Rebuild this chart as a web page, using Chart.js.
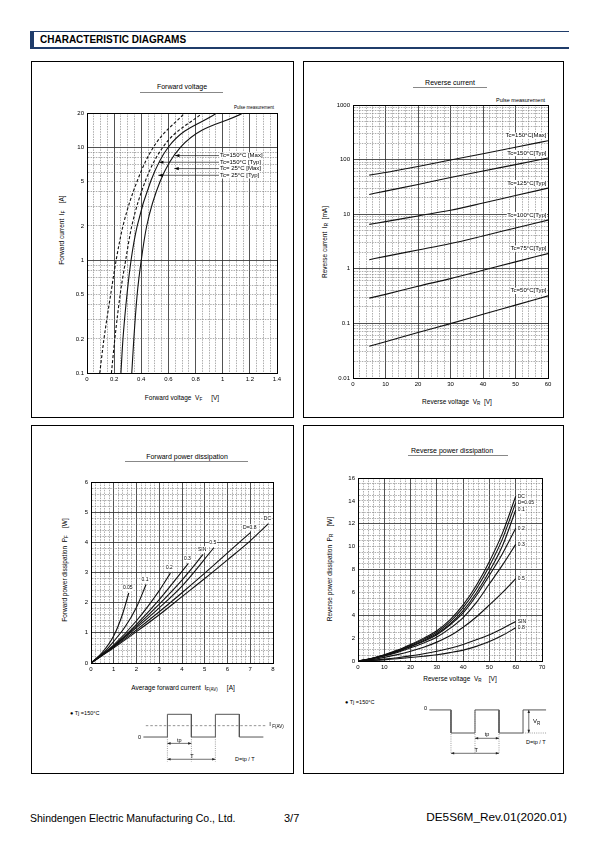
<!DOCTYPE html>
<html>
<head>
<meta charset="utf-8">
<script src="https://cdn.jsdelivr.net/npm/chart.js@4.4.1/dist/chart.umd.min.js"></script>
<style>
  body { margin: 0; width: 595px; height: 842px; position: relative; background: #fff; overflow: hidden;
         font-family: "Liberation Sans", Arial, sans-serif; color: #000; }
  .box { position: absolute; border: 1px solid #000; box-sizing: border-box; }
  .t { position: absolute; white-space: pre; line-height: 1; transform: translate(-50%, -50%); }
  .v { transform: translate(-50%, -50%) rotate(-90deg); }
  .l { transform: translate(0, -50%); }
  .r { transform: translate(-100%, -50%); }
  .rule { position: absolute; height: 0; border-top: 1px solid #888; }
  .s { font-size: 70%; position: relative; top: 1px; }
  canvas { position: absolute; }
</style>
</head>
<body>

<div style="position:absolute;left:30px;top:31px;width:539px;height:18px;border-top:1px solid #1f3c6a;border-bottom:2px solid #1f3c6a;box-sizing:border-box"></div>
<div style="position:absolute;left:30px;top:31px;width:4px;height:18px;background:#1f3c6a"></div>
<div class="t l" style="left:40px;top:40px;font-size:10px;font-weight:bold">CHARACTERISTIC DIAGRAMS</div>

<div class="box" style="left:31px;top:61px;width:263px;height:357px"></div>
<div class="box" style="left:303px;top:61px;width:261px;height:357px"></div>
<div class="box" style="left:31px;top:425px;width:263px;height:349px"></div>
<div class="box" style="left:303px;top:425px;width:261px;height:349px"></div>

<!-- titles -->
<div class="t" style="left:182px;top:86px;font-size:7px">Forward voltage</div>
<div class="rule" style="left:140px;top:92px;width:83px"></div>
<div class="t" style="left:450px;top:81.5px;font-size:7px">Reverse current</div>
<div class="rule" style="left:413px;top:87px;width:74px"></div>
<div class="t" style="left:187px;top:456px;font-size:7px">Forward power dissipation</div>
<div class="rule" style="left:125px;top:461px;width:123px"></div>
<div class="t" style="left:452px;top:450px;font-size:7px">Reverse power dissipation</div>
<div class="rule" style="left:408px;top:455px;width:100px"></div>

<div class="t r" style="left:274px;top:108px;font-size:4.5px">Pulse measurement</div>
<div class="t r" style="left:545px;top:100.5px;font-size:5.5px">Pulse measurement</div>

<!-- axis titles -->
<div class="t v" style="left:62px;top:230px;font-size:6.5px">Forward current  I<span class="s">F</span>    [A]</div>
<div class="t" style="left:182px;top:398px;font-size:6.5px">Forward voltage  V<span class="s">F</span>     [V]</div>
<div class="t v" style="left:325px;top:242px;font-size:6.5px">Reverse current  I<span class="s">R</span>  [mA]</div>
<div class="t" style="left:457px;top:402px;font-size:6.5px">Reverse voltage  V<span class="s">R</span>  [V]</div>
<div class="t v" style="left:65px;top:570px;font-size:6.5px">Forward power dissipation  P<span class="s">F</span>    [W]</div>
<div class="t" style="left:183px;top:688px;font-size:6.5px">Average forward current  I<span class="s">F(AV)</span>     [A]</div>
<div class="t v" style="left:330px;top:569px;font-size:6.5px">Reverse power dissipation  P<span class="s">R</span>    [W]</div>
<div class="t" style="left:460px;top:679px;font-size:6.5px">Reverse voltage  V<span class="s">R</span>    [V]</div>

<div class="t l" style="left:70px;top:714px;font-size:5.5px">● Tj =150°C</div>
<div class="t l" style="left:235px;top:760px;font-size:5.5px">D=tp / T</div>
<div class="t l" style="left:345px;top:703px;font-size:5.5px">● Tj =150°C</div>
<div class="t l" style="left:526px;top:743px;font-size:5.5px">D=tp / T</div>

<canvas id="c1" width="235" height="290" style="left:57px;top:100px;width:235px;height:290px"></canvas>
<canvas id="c2" width="245" height="300" style="left:318px;top:92px;width:245px;height:300px"></canvas>
<canvas id="c3" width="225" height="205" style="left:66px;top:470px;width:225px;height:205px"></canvas>
<canvas id="c4" width="228" height="207" style="left:333px;top:466px;width:228px;height:207px"></canvas>
<canvas id="w1" width="155" height="62" style="left:135px;top:705px;width:155px;height:62px"></canvas>
<canvas id="w2" width="140" height="60" style="left:420px;top:700px;width:140px;height:60px"></canvas>

<div class="t l" style="left:30px;top:818px;font-size:10.5px">Shindengen Electric Manufacturing Co., Ltd.</div>
<div class="t l" style="left:284px;top:818px;font-size:11px">3/7</div>
<div class="t r" style="left:567px;top:818px;font-size:11.8px">DE5S6M_Rev.01(2020.01)</div>

<script>
// ---- Forward voltage (IF vs VF) ----
const fvCurrent = [0.1, 0.2, 0.5, 1, 2, 5, 10, 20];
const fv150Typ = [0.094, 0.125, 0.175, 0.215, 0.265, 0.37, 0.49, 0.72];
const fv25Typ  = [0.18, 0.205, 0.245, 0.285, 0.33, 0.43, 0.56, 0.85];
const fv150Max = [0.25, 0.265, 0.295, 0.325, 0.37, 0.47, 0.6, 0.955];
const fv25Max  = [0.33, 0.345, 0.37, 0.4, 0.44, 0.54, 0.69, 1.15];
const fvXLabels = [0, 0.2, 0.4, 0.6, 0.8, 1, 1.2, 1.4];
const fvYLabels = [0.1, 0.2, 0.5, 1, 2, 5, 10, 20];
const fvNotes = ['Tc=150°C [Max]', 'Tc=150°C [Typ]', 'Tc= 25°C [Max]', 'Tc= 25°C [Typ]'];
const fvNoteTipV = [0.648, 0.53, 0.643, 0.525];
const fvNoteI = [8.4, 7.33, 6.44, 5.62];
const fvNoteTextV = 0.98;

// ---- Reverse current (IR vs VR) ----
const rcVoltage = [5, 10, 20, 30, 40, 50, 60];
const rc150Max = [52, 58, 75, 98, 128, 168, 222];
const rc150Typ = [23, 26.5, 35, 47, 62, 81, 107];
const rc125Typ = [6.5, 7.3, 9.3, 11.8, 16, 22, 30];
const rc100Typ = [1.47, 1.69, 2.21, 2.9, 4.0, 5.6, 7.8];
const rc75Typ  = [0.29, 0.34, 0.48, 0.66, 0.94, 1.34, 1.9];
const rc50Typ  = [0.038, 0.046, 0.068, 0.099, 0.147, 0.216, 0.32];
const rcXLabels = [0, 10, 20, 30, 40, 50, 60];
const rcYLabels = [0.01, 0.1, 1, 10, 100, 1000];

// ---- Forward power dissipation (PF vs IF(AV)) ----
const pf005I = [0, 0.5, 1, 1.4, 1.66];        const pf005P = [0, 0.35, 0.9, 1.65, 2.32];
const pf01I  = [0, 0.5, 1, 1.5, 2, 2.42];     const pf01P  = [0, 0.3, 0.72, 1.2, 1.85, 2.6];
const pf02I  = [0, 1, 2, 3, 3.49];            const pf02P  = [0, 0.6, 1.4, 2.4, 2.98];
const pf03I  = [0, 1, 2, 3, 4.28];            const pf03P  = [0, 0.57, 1.28, 2.1, 3.3];
const pfSinI = [0, 1, 2, 3, 4, 4.93];         const pfSinP = [0, 0.56, 1.22, 1.95, 2.75, 3.6];
const pf05I  = [0, 1, 2, 3, 4, 5.4];          const pf05P  = [0, 0.55, 1.17, 1.83, 2.55, 3.82];
const pf08I  = [0, 1, 2, 3, 4, 5, 6, 7.02];   const pf08P  = [0, 0.53, 1.1, 1.7, 2.33, 2.98, 3.65, 4.33];
const pfDcI  = [0, 1, 2, 3, 4, 5, 6, 7, 7.8]; const pfDcP  = [0, 0.5, 1.04, 1.6, 2.2, 2.8, 3.42, 4.05, 4.62];
const pfXLabels = [0, 1, 2, 3, 4, 5, 6, 7, 8];
const pfYLabels = [0, 1, 2, 3, 4, 5, 6];

// ---- Reverse power dissipation (PR vs VR) ----
const prVoltage = [0, 5, 10, 15, 20, 25, 30, 35, 40, 45, 50, 55, 60];
const prDc   = [0, 0.22, 0.55, 0.95, 1.45, 2.0, 2.65, 3.6, 4.9, 6.6, 8.7, 11.2, 14.4];
const pr005  = [0, 0.21, 0.52, 0.9, 1.38, 1.9, 2.52, 3.42, 4.66, 6.3, 8.3, 10.7, 13.85];
const pr01   = [0, 0.2, 0.5, 0.86, 1.3, 1.8, 2.39, 3.24, 4.41, 5.95, 7.85, 10.1, 13.2];
const pr02   = [0, 0.19, 0.47, 0.82, 1.25, 1.72, 2.3, 3.15, 4.2, 5.7, 7.5, 9.4, 11.6];
const pr03   = [0, 0.17, 0.43, 0.75, 1.15, 1.58, 2.1, 2.85, 3.8, 5.1, 6.75, 8.4, 10.2];
const pr05   = [0, 0.12, 0.32, 0.56, 0.85, 1.2, 1.65, 2.2, 2.95, 3.85, 4.9, 6.0, 7.2];
const prSin  = [0, 0.06, 0.16, 0.29, 0.45, 0.63, 0.85, 1.12, 1.45, 1.85, 2.3, 2.85, 3.45];
const pr08   = [0, 0.04, 0.1, 0.19, 0.3, 0.42, 0.55, 0.73, 0.95, 1.28, 1.7, 2.25, 2.9];
const prXLabels = [0, 10, 20, 30, 40, 50, 60, 70];
const prYLabels = [0, 2, 4, 6, 8, 10, 12, 14, 16];

// ---- waveform sketches ----
const fwdWaveT = [0, 1, 1, 2, 2, 3, 3, 4, 4, 5];
const fwdWaveV = [0, 0, 1, 1, 0, 0, 1, 1, 0, 0];
const fwdAvgT = [0.1, 5.15];
const fwdAvgV = [0.5, 0.5];
const revWaveT = [-0.9, 0, 0, 1, 1, 2, 2, 3, 3, 3.96];
const revWaveV = [0, 0, -1, -1, 0, 0, -1, -1, 0, 0];

const FONT = '"Liberation Sans", Arial, sans-serif';
Chart.defaults.font.family = FONT;
Chart.defaults.color = '#000';
Chart.defaults.animation = false;

const near = (a, b) => Math.abs(a - b) < 1e-6 * Math.max(1, Math.abs(b));
const inList = (v, list) => list.some(x => near(v, x));
const pts = (xs, ys) => xs.map((x, i) => ({ x: x, y: ys[i] }));

function steps(a, b, step) {
	const out = [];
	const n = Math.round((b - a) / step);
	for (let i = 0; i <= n; i++) out.push(Math.round((a + i * step) * 1e6) / 1e6);
	return out;
}
function logSteps(min, max) {
	const out = [];
	for (let e = -3; e <= 4; e++) {
		for (let k = 1; k < 10; k++) {
			const v = Number((k * Math.pow(10, e)).toPrecision(6));
			if (v >= min * 0.9999 && v <= max * 1.0001) out.push(v);
		}
	}
	return out;
}

function axis(o) {
	const edge = v => near(v, o.min) || near(v, o.max);
	return {
		type: o.type || 'linear', position: o.pos, min: o.min, max: o.max,
		afterBuildTicks: s => { s.ticks = o.grid.map(v => ({ value: v })); },
		afterFit: s => {
			if (o.pos === 'left') { s.width = o.size; s.paddingTop = 0; s.paddingBottom = 0; }
			else { s.height = o.size; s.paddingLeft = 0; s.paddingRight = 0; }
		},
		ticks: {
			autoSkip: false, maxRotation: 0, minRotation: 0, padding: o.pad || 3,
			font: { size: 6 }, color: '#000',
			callback: v => { const i = o.labels.findIndex(x => near(v, x)); return i < 0 ? '' : String(o.labels[i]); }
		},
		grid: {
			drawTicks: false,
			color: c => !c.tick ? '#000' : edge(c.tick.value) ? '#000' : inList(c.tick.value, o.major) ? '#333' : '#777',
			lineWidth: c => !c.tick ? 1 : edge(c.tick.value) ? 1 : inList(c.tick.value, o.major) ? 0.85 : 0.6
		},
		border: { color: '#000', width: 1, dash: c => (c.tick && !inList(c.tick.value, o.major)) ? [1.5, 1.1] : [] }
	};
}

function line(label, data, dash) {
	return {
		label: label, data: data, showLine: true, pointRadius: 0, borderColor: '#111',
		borderWidth: 1.1, borderDash: dash || [], cubicInterpolationMode: 'monotone', fill: false
	};
}

const baseOpts = (padding) => ({
	responsive: false, animation: false, layout: { padding: padding },
	plugins: { legend: { display: false }, tooltip: { enabled: false } }
});

function textBox(ctx, text, x, y, align) {
	const w = ctx.measureText(text).width;
	const left = align === 'right' ? x - w : align === 'center' ? x - w / 2 : x;
	ctx.fillStyle = '#fff';
	ctx.fillRect(left - 0.5, y - 3.2, w + 1, 6.4);
	ctx.fillStyle = '#000';
	ctx.textAlign = align;
	ctx.fillText(text, x, y);
}

// ---------- chart 1 ----------
const fvNotePlugin = {
	id: 'fvNotes',
	afterDatasetsDraw(chart) {
		const { ctx, scales: { x, y } } = chart;
		ctx.save();
		ctx.font = '6px ' + FONT;
		ctx.textBaseline = 'middle';
		const tx = x.getPixelForValue(fvNoteTextV);
		fvNotes.forEach((txt, i) => {
			const px = x.getPixelForValue(fvNoteTipV[i]);
			const py = y.getPixelForValue(fvNoteI[i]);
			ctx.strokeStyle = '#222'; ctx.lineWidth = 0.7;
			ctx.beginPath(); ctx.moveTo(px, py); ctx.lineTo(tx - 1, py); ctx.stroke();
			ctx.fillStyle = '#000';
			ctx.beginPath(); ctx.moveTo(px, py); ctx.lineTo(px + 4.5, py - 1.6); ctx.lineTo(px + 4.5, py + 1.6); ctx.closePath(); ctx.fill();
			textBox(ctx, txt, tx, py, 'left');
		});
		ctx.restore();
	}
};

new Chart(document.getElementById('c1'), {
	type: 'scatter',
	data: {
		datasets: [
			line('Tc=150°C [Typ]', pts(fv150Typ, fvCurrent), [3, 2]),
			line('Tc=25°C [Typ]', pts(fv25Typ, fvCurrent), [3, 2]),
			line('Tc=150°C [Max]', pts(fv150Max, fvCurrent)),
			line('Tc=25°C [Max]', pts(fv25Max, fvCurrent))
		]
	},
	options: Object.assign(baseOpts({ left: 0, top: 13, right: 15, bottom: 0 }), {
		scales: {
			x: axis({ pos: 'bottom', min: 0, max: 1.4, size: 17, grid: steps(0, 1.4, 0.05), labels: fvXLabels, major: fvXLabels }),
			y: axis({ type: 'logarithmic', pos: 'left', min: 0.1, max: 20, size: 30, grid: logSteps(0.1, 20), labels: fvYLabels, major: [0.1, 1, 10, 20] })
		}
	}),
	plugins: [fvNotePlugin]
});

// ---------- chart 2 ----------
const rcLabelPlugin = {
	id: 'rcLabels',
	afterDatasetsDraw(chart) {
		const { ctx, chartArea: a, scales: { y } } = chart;
		ctx.save();
		ctx.font = '6px ' + FONT;
		ctx.textBaseline = 'middle';
		chart.data.datasets.forEach(ds => {
			const last = ds.data[ds.data.length - 1];
			textBox(ctx, ds.label, a.right - 1.5, y.getPixelForValue(last.y) - 5, 'right');
		});
		ctx.restore();
	}
};

new Chart(document.getElementById('c2'), {
	type: 'scatter',
	data: {
		datasets: [
			line('Tc=150°C[Max]', pts(rcVoltage, rc150Max)),
			line('Tc=150°C[Typ]', pts(rcVoltage, rc150Typ)),
			line('Tc=125°C[Typ]', pts(rcVoltage, rc125Typ)),
			line('Tc=100°C[Typ]', pts(rcVoltage, rc100Typ)),
			line('Tc=75°C[Typ]', pts(rcVoltage, rc75Typ)),
			line('Tc=50°C[Typ]', pts(rcVoltage, rc50Typ))
		]
	},
	options: Object.assign(baseOpts({ left: 0, top: 13, right: 15, bottom: 0 }), {
		scales: {
			x: axis({ pos: 'bottom', min: 0, max: 60, size: 14, grid: steps(0, 60, 2), labels: rcXLabels, major: rcXLabels }),
			y: axis({ type: 'logarithmic', pos: 'left', min: 0.01, max: 1000, size: 35, grid: logSteps(0.01, 1000), labels: rcYLabels, major: rcYLabels })
		}
	}),
	plugins: [rcLabelPlugin]
});

// ---------- chart 3 ----------
const pfLabelPlugin = {
	id: 'pfLabels',
	afterDatasetsDraw(chart) {
		const { ctx, scales: { x, y } } = chart;
		ctx.save();
		ctx.font = '5px ' + FONT;
		ctx.textBaseline = 'middle';
		chart.data.datasets.forEach(ds => {
			const last = ds.data[ds.data.length - 1];
			textBox(ctx, ds.label, x.getPixelForValue(last.x) - 1, y.getPixelForValue(last.y) - 5, 'center');
		});
		ctx.restore();
	}
};

new Chart(document.getElementById('c3'), {
	type: 'scatter',
	data: {
		datasets: [
			line('0.05', pts(pf005I, pf005P)),
			line('0.1', pts(pf01I, pf01P)),
			line('0.2', pts(pf02I, pf02P)),
			line('0.3', pts(pf03I, pf03P)),
			line('SIN', pts(pfSinI, pfSinP)),
			line('0.5', pts(pf05I, pf05P)),
			line('D=0.8', pts(pf08I, pf08P)),
			line('DC', pts(pfDcI, pfDcP))
		]
	},
	options: Object.assign(baseOpts({ left: 0, top: 12, right: 18, bottom: 0 }), {
		scales: {
			x: axis({ pos: 'bottom', min: 0, max: 8, size: 12, grid: steps(0, 8, 0.2), labels: pfXLabels, major: pfXLabels }),
			y: axis({ pos: 'left', min: 0, max: 6, size: 25, grid: steps(0, 6, 0.2), labels: pfYLabels, major: pfYLabels })
		}
	}),
	plugins: [pfLabelPlugin]
});

// ---------- chart 4 ----------
const prLabelPlugin = {
	id: 'prLabels',
	afterDatasetsDraw(chart) {
		const { ctx, scales: { x, y } } = chart;
		ctx.save();
		ctx.font = '5px ' + FONT;
		ctx.textBaseline = 'middle';
		chart.data.datasets.forEach(ds => {
			const last = ds.data[ds.data.length - 1];
			textBox(ctx, ds.label, x.getPixelForValue(last.x) + 2, y.getPixelForValue(last.y), 'left');
		});
		ctx.restore();
	}
};

new Chart(document.getElementById('c4'), {
	type: 'scatter',
	data: {
		datasets: [
			line('DC', pts(prVoltage, prDc)),
			line('D=0.05', pts(prVoltage, pr005)),
			line('0.1', pts(prVoltage, pr01)),
			line('0.2', pts(prVoltage, pr02)),
			line('0.3', pts(prVoltage, pr03)),
			line('0.5', pts(prVoltage, pr05)),
			line('SIN', pts(prVoltage, prSin)),
			line('0.8', pts(prVoltage, pr08))
		]
	},
	options: Object.assign(baseOpts({ left: 0, top: 12, right: 19, bottom: 0 }), {
		scales: {
			x: axis({ pos: 'bottom', min: 0, max: 70, size: 12, grid: steps(0, 70, 2), labels: prXLabels, major: prXLabels }),
			y: axis({ pos: 'left', min: 0, max: 16, size: 25, grid: steps(0, 16, 0.5), labels: prYLabels, major: [0, 4, 8, 12, 16] })
		}
	}),
	plugins: [prLabelPlugin]
});

// ---------- waveform sketches ----------
function arrowHead(ctx, x, y, dx, dy) {
	const s = 3.2, w = 1.3;
	ctx.beginPath();
	ctx.moveTo(x, y);
	ctx.lineTo(x - dx * s - dy * w, y - dy * s + dx * w);
	ctx.lineTo(x - dx * s + dy * w, y - dy * s - dx * w);
	ctx.closePath();
	ctx.fill();
}
function dimension(ctx, x1, y1, x2, y2) {
	ctx.beginPath(); ctx.moveTo(x1, y1); ctx.lineTo(x2, y2); ctx.stroke();
	const len = Math.hypot(x2 - x1, y2 - y1), dx = (x2 - x1) / len, dy = (y2 - y1) / len;
	arrowHead(ctx, x2, y2, dx, dy);
	arrowHead(ctx, x1, y1, -dx, -dy);
}
function dotted(ctx, x1, y1, x2, y2) {
	ctx.save(); ctx.setLineDash([1, 1.2]); ctx.strokeStyle = '#777'; ctx.lineWidth = 0.7;
	ctx.beginPath(); ctx.moveTo(x1, y1); ctx.lineTo(x2, y2); ctx.stroke(); ctx.restore();
}

const waveOpts = (xmin, xmax, ymin, ymax) => Object.assign(baseOpts(0), {
	scales: {
		x: { type: 'linear', display: false, min: xmin, max: xmax },
		y: { type: 'linear', display: false, min: ymin, max: ymax }
	}
});

const fwdMarks = {
	id: 'fwdMarks',
	afterDatasetsDraw(chart) {
		const { ctx, scales: { x, y } } = chart;
		const X = v => x.getPixelForValue(v), Y = v => y.getPixelForValue(v);
		ctx.save();
		[1, 2, 3].forEach(t => dotted(ctx, X(t), Y(0), X(t), Y(-1.09)));
		ctx.strokeStyle = '#333'; ctx.fillStyle = '#222'; ctx.lineWidth = 0.7;
		dimension(ctx, X(1), Y(-0.28), X(2), Y(-0.28));
		dimension(ctx, X(1), Y(-0.98), X(3), Y(-0.98));
		ctx.fillStyle = '#000'; ctx.textBaseline = 'middle';
		ctx.font = '5.5px ' + FONT;
		ctx.textAlign = 'center';
		ctx.fillText('tp', X(1.5), Y(-0.16));
		ctx.fillText('T', X(2.02), Y(-0.86));
		ctx.textAlign = 'right';
		ctx.fillText('0', X(-0.1), Y(0));
		ctx.textAlign = 'left';
		ctx.font = '6px ' + FONT;
		ctx.fillText('I', X(5.25), Y(0.54));
		ctx.font = '4.5px ' + FONT;
		ctx.fillText('F(AV)', X(5.25) + 3, Y(0.47));
		ctx.restore();
	}
};

new Chart(document.getElementById('w1'), {
	type: 'scatter',
	data: {
		datasets: [
			{ data: pts(fwdWaveT, fwdWaveV), showLine: true, pointRadius: 0, borderColor: '#555', borderWidth: 1 },
			{ data: pts(fwdAvgT, fwdAvgV), showLine: true, pointRadius: 0, borderColor: '#777', borderWidth: 0.8, borderDash: [2.5, 2] }
		]
	},
	options: waveOpts(-0.35, 6.11, -1.32, 1.41),
	plugins: [fwdMarks]
});

const revMarks = {
	id: 'revMarks',
	afterDatasetsDraw(chart) {
		const { ctx, scales: { x, y } } = chart;
		const X = v => x.getPixelForValue(v), Y = v => y.getPixelForValue(v);
		ctx.save();
		[0, 1, 2].forEach(t => dotted(ctx, X(t), Y(0), X(t), Y(-1.91)));
		dotted(ctx, X(3), Y(-1), X(3.96), Y(-1));
		ctx.strokeStyle = '#333'; ctx.fillStyle = '#222'; ctx.lineWidth = 0.7;
		dimension(ctx, X(1), Y(-1.23), X(2), Y(-1.23));
		dimension(ctx, X(0), Y(-1.88), X(2), Y(-1.88));
		dimension(ctx, X(3.24), Y(0), X(3.24), Y(-1));
		ctx.fillStyle = '#000'; ctx.textBaseline = 'middle';
		ctx.font = '5.5px ' + FONT;
		ctx.textAlign = 'center';
		ctx.fillText('tp', X(1.5), Y(-1.08));
		ctx.fillText('T', X(1.05), Y(-1.74));
		ctx.textAlign = 'right';
		ctx.fillText('0', X(-1.0), Y(0.05));
		ctx.textAlign = 'left';
		ctx.font = '6px ' + FONT;
		ctx.fillText('V', X(3.42), Y(-0.5));
		ctx.font = '4.5px ' + FONT;
		ctx.fillText('R', X(3.42) + 4, Y(-0.58));
		ctx.restore();
	}
};

new Chart(document.getElementById('w2'), {
	type: 'scatter',
	data: {
		datasets: [
			{ data: pts(revWaveT, revWaveV), showLine: true, pointRadius: 0, borderColor: '#555', borderWidth: 1 }
		]
	},
	options: waveOpts(-1.29, 4.54, -2.17, 0.43),
	plugins: [revMarks]
});
</script>
</body>
</html>
